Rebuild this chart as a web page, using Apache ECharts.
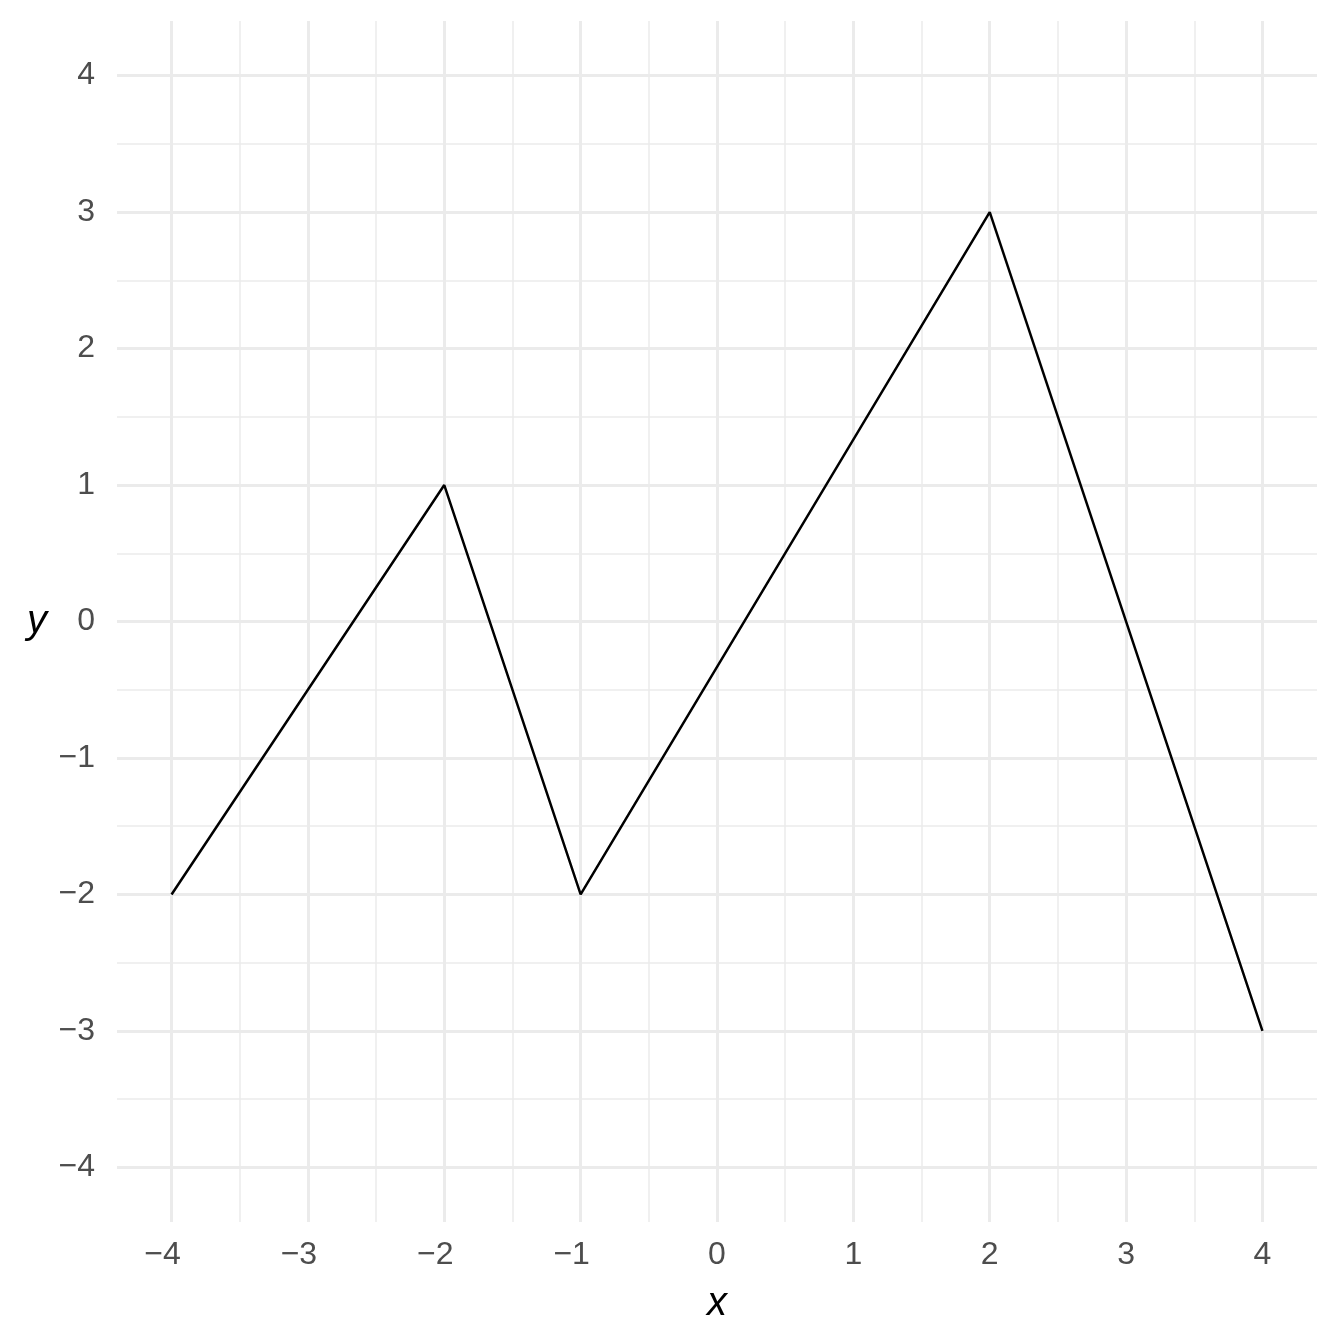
<!DOCTYPE html>
<html>
<head>
<meta charset="utf-8">
<script src="https://cdn.jsdelivr.net/npm/echarts@6/dist/echarts.min.js"></script>
<style>html,body{margin:0;padding:0;background:#fff}#c{width:1344px;height:1344px}</style>
</head>
<body>
<div id="c"></div>
<script>
const xValues = [-4, -2, -1, 2, 4];
const yValues = [-2, 1, -2, 3, -3];
const xTicks = [-4, -3, -2, -1, 0, 1, 2, 3, 4];
const yTicks = [-4, -3, -2, -1, 0, 1, 2, 3, 4];
const xMinorTicks = [-3.5, -2.5, -1.5, -0.5, 0.5, 1.5, 2.5, 3.5];
const yMinorTicks = [-3.5, -2.5, -1.5, -0.5, 0.5, 1.5, 2.5, 3.5];
const axisRange = [-4.4, 4.4];

const FONT = '"Liberation Sans", Arial, sans-serif';
const fmt = v => String(v).replace('-', '\u2212');
const fmtX = v => v < 0 ? '{neg|' + fmt(v) + '}' : '{pos|' + fmt(v) + '}';
const majorColor = '#EBEBEB';
const tickText = {fontFamily: FONT, fontSize: 32, color: '#4D4D4D'};

const chart = echarts.init(document.getElementById('c'), null, {renderer: 'canvas'});
const baseAxis = (ticks, extra) => Object.assign({
  type: 'value',
  min: axisRange[0], max: axisRange[1],
  axisLine: {show: false},
  axisTick: {show: false, customValues: ticks},
  splitLine: {show: true, lineStyle: {color: majorColor, width: 3}},
}, extra);

chart.setOption({
  animation: false,
  backgroundColor: '#ffffff',
  grid: {left: 117, right: 27, top: 21, bottom: 122, containLabel: false},
  xAxis: [
    baseAxis(xTicks, {
      name: 'x', nameLocation: 'middle', nameGap: 62,
      nameTextStyle: {fontFamily: FONT, fontSize: 40, fontStyle: 'italic', color: '#000'},
      axisLabel: Object.assign({customValues: xTicks, formatter: fmtX, margin: 17,
        rich: {
          neg: Object.assign({padding: [0, 18, 0, 0]}, tickText),
          pos: Object.assign({}, tickText)
        }}, tickText)
    }),
    baseAxis(xMinorTicks, {
      position: 'bottom',
      axisLabel: {show: false},
      splitLine: {show: true, lineStyle: {color: majorColor, width: 1.5}}
    })
  ],
  yAxis: [
    baseAxis(yTicks, {
      name: 'y', nameLocation: 'middle', nameGap: 70, nameRotate: 0,
      nameTextStyle: {fontFamily: FONT, fontSize: 40, fontStyle: 'italic', color: '#000', padding: [14, 0, 0, 0]},
      axisLabel: Object.assign({customValues: yTicks, formatter: fmt, margin: 22}, tickText)
    }),
    baseAxis(yMinorTicks, {
      position: 'left',
      axisLabel: {show: false},
      splitLine: {show: true, lineStyle: {color: majorColor, width: 1.5}}
    })
  ],
  series: [{
    type: 'line',
    xAxisIndex: 0, yAxisIndex: 0,
    data: xValues.map((x, i) => [x, yValues[i]]),
    showSymbol: false,
    symbol: 'none',
    lineStyle: {color: '#000', width: 2.5},
    z: 10
  }]
});
</script>
</body>
</html>
